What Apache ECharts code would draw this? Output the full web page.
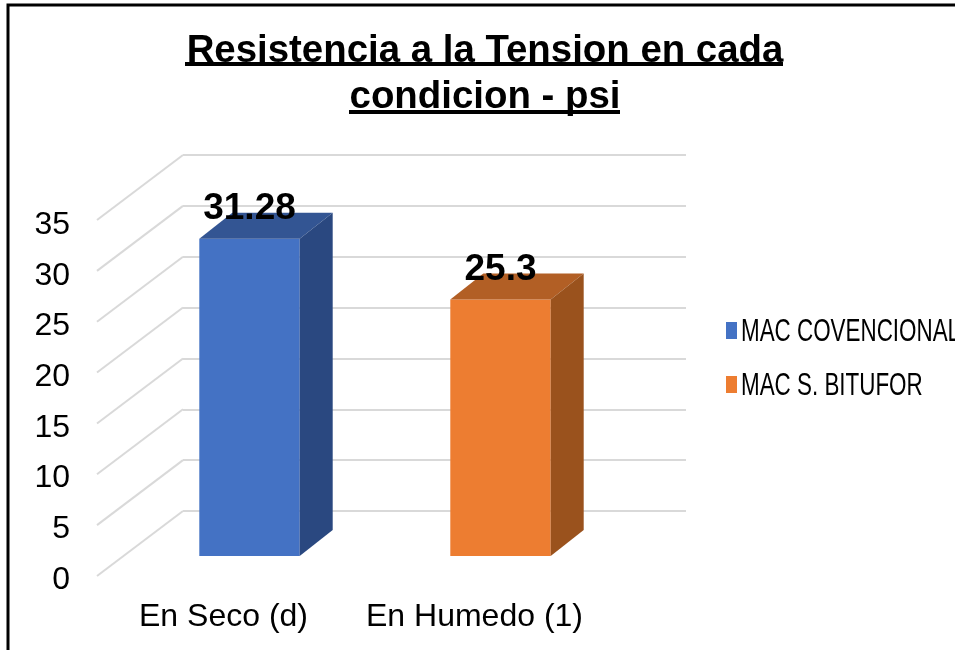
<!DOCTYPE html>
<html>
<head>
<meta charset="utf-8">
<style>
  html, body { margin: 0; padding: 0; background: #fff; }
  #chart { width: 955px; height: 650px; }
</style>
<script src="https://cdn.jsdelivr.net/npm/echarts@6/dist/echarts.min.js"></script>
</head>
<body>
<div id="chart"></div>
<script>
var categories = ['En Seco (d)', 'En Humedo (1)'];
var seriesNames = ['MAC COVENCIONAL', 'MAC S. BITUFOR'];
var dataConvencional = [[0, 31.28]];
var dataBitufor = [[1, 25.3]];
var wallTicks = [0, 5, 10, 15, 20, 25, 30, 35];

var font = '"Liberation Sans", Arial, sans-serif';

// front, top and side colours of each column
var blue = ['#4472c4', '#335593', '#2a4880'];
var orange = ['#ed7d31', '#b25f25', '#9a521d'];

var depthX = 33, depthY = 26;

function drawColumn(colors) {
    return function (params, api) {
        var val = api.value(1);
        var top = api.coord([api.value(0), val]);
        var base = api.coord([api.value(0), 0]);
        var w = api.size([1, 0])[0] * 0.4;
        var l = top[0] - w / 2, r = top[0] + w / 2;
        return {
            type: 'group',
            children: [
                {type: 'polygon', shape: {points: [[l, base[1]], [r, base[1]], [r, top[1]], [l, top[1]]]}, style: {fill: colors[0]}},
                {type: 'polygon', shape: {points: [[l, top[1]], [r, top[1]], [r + depthX, top[1] - depthY], [l + depthX, top[1] - depthY]]}, style: {fill: colors[1]}},
                {type: 'polygon', shape: {points: [[r, base[1]], [r + depthX, base[1] - depthY], [r + depthX, top[1] - depthY], [r, top[1]]]}, style: {fill: colors[2]}},
                {type: 'text', x: top[0], y: top[1] - 30, style: {text: String(val), fill: '#000', font: 'bold 37px ' + font, align: 'center', verticalAlign: 'middle'}}
            ]
        };
    };
}

// slanted floor-to-wall lines, one per tick
function drawSlant(params, api) {
    var p = api.coord([0, api.value(0)]);
    var x = params.coordSys.x;
    return {
        type: 'line',
        shape: {x1: x, y1: p[1], x2: x - 86, y2: p[1] + 65},
        style: {stroke: '#d9d9d9', lineWidth: 2}
    };
}

// legend text is squeezed in the original, the native legend can't scale it
function legendLabel(name, y) {
    return {
        type: 'text', z: 10, x: 741, y: y, scaleX: 0.7,
        style: {text: name, fill: '#000', font: '32px ' + font, align: 'left', verticalAlign: 'middle'}
    };
}

var hiddenX = {type: 'category', data: categories, axisLine: {show: false}, axisTick: {show: false}, axisLabel: {show: false}, splitLine: {show: false}};
var hiddenY = {type: 'value', min: 0, max: 35, interval: 5, axisLine: {show: false}, axisTick: {show: false}, axisLabel: {show: false}, splitLine: {show: false}};

var myChart = echarts.init(document.getElementById('chart'), null, {renderer: 'canvas'});
myChart.setOption({
    animation: false,
    backgroundColor: '#fff',
    title: {
        text: 'Resistencia a la Tension en cada\ncondicion - psi',
        left: 480,
        top: 23,
        textAlign: 'center',
        textStyle: {fontFamily: font, fontSize: 38.4, fontWeight: 'bold', color: '#000', lineHeight: 46}
    },
    legend: {
        data: seriesNames,
        orient: 'vertical',
        left: 726,
        top: 322,
        padding: 0,
        icon: 'rect',
        itemWidth: 11,
        itemHeight: 17,
        itemGap: 37,
        formatter: function () { return ''; },
        textStyle: {fontSize: 10}
    },
    grid: [
        {left: 183, top: 155, width: 503, height: 356},
        {left: 98, top: 225, width: 502, height: 355},
        {left: 124, top: 201, width: 502, height: 355}
    ],
    xAxis: [
        hiddenX,
        {
            gridIndex: 1, type: 'category', data: categories,
            axisLine: {show: false}, axisTick: {show: false},
            axisLabel: {color: '#000', fontFamily: font, fontSize: 32, margin: 21, interval: 0}
        },
        Object.assign({}, hiddenX, {gridIndex: 2})
    ],
    yAxis: [
        {
            type: 'value', min: 0, max: 35, interval: 5,
            axisLine: {show: false}, axisTick: {show: false}, axisLabel: {show: false},
            splitLine: {show: true, lineStyle: {color: '#d9d9d9', width: 2}}
        },
        {
            gridIndex: 1, type: 'value', min: 0, max: 35, interval: 5,
            axisLine: {show: false}, axisTick: {show: false}, splitLine: {show: false},
            axisLabel: {color: '#000', fontFamily: font, fontSize: 32, margin: 28}
        },
        Object.assign({}, hiddenY, {gridIndex: 2})
    ],
    series: [
        {
            type: 'custom', xAxisIndex: 0, yAxisIndex: 0, z: 1, silent: true,
            data: wallTicks.map(function (t) { return [t]; }),
            encode: {y: 0},
            renderItem: drawSlant
        },
        {
            name: seriesNames[0], type: 'custom', xAxisIndex: 2, yAxisIndex: 2, z: 3,
            itemStyle: {color: blue[0]},
            data: dataConvencional, encode: {x: 0, y: 1},
            renderItem: drawColumn(blue)
        },
        {
            name: seriesNames[1], type: 'custom', xAxisIndex: 2, yAxisIndex: 2, z: 3,
            itemStyle: {color: orange[0]},
            data: dataBitufor, encode: {x: 0, y: 1},
            renderItem: drawColumn(orange)
        }
    ],
    graphic: [
        // outer frame, left and top sides only
        {type: 'polyline', z: 10, shape: {points: [[8, 650], [8, 5], [955, 5]]}, style: {stroke: '#000', lineWidth: 3, fill: null}},
        // title underlines
        {type: 'rect', z: 10, shape: {x: 185, y: 62, width: 598, height: 4}, style: {fill: '#000'}},
        {type: 'rect', z: 10, shape: {x: 349, y: 110, width: 271, height: 4}, style: {fill: '#000'}},
        legendLabel(seriesNames[0], 332),
        legendLabel(seriesNames[1], 386)
    ]
});
</script>
</body>
</html>
